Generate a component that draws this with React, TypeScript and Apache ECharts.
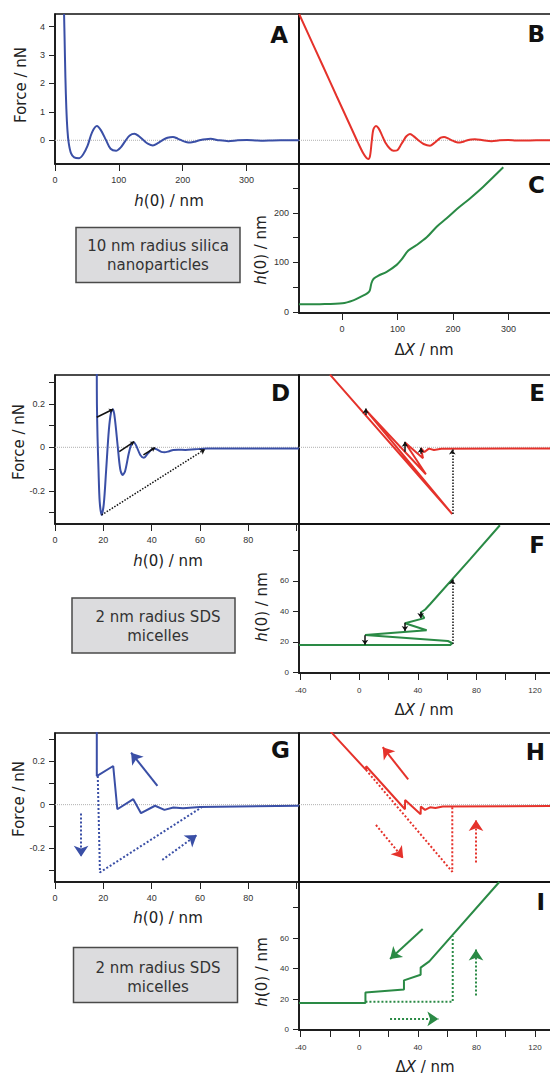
import { useEffect, useRef } from "react";
import * as echarts from "echarts";

// ---------- DATA ----------
// A: silica nanoparticles, Force (nN) vs h(0) (nm)
const silicaForceVsH = [
  [14.2, 4.45], [15.0, 3.6], [16.3, 2.2], [17.8, 1.1], [19.5, 0.35], [21.5, -0.1], [25, -0.45],
  [30, -0.6], [37.8, -0.63], [44, -0.5], [50.9, -0.2], [58, 0.28], [65.6, 0.5], [72, 0.35],
  [79.8, 0.01], [87, -0.3], [95.6, -0.37], [103, -0.25], [110.2, -0.02], [117, 0.17], [124.4, 0.23],
  [131, 0.15], [138.6, 0.0], [146, -0.13], [153.3, -0.18], [161, -0.1], [168, 0.0], [176, 0.09],
  [184.7, 0.12], [192, 0.06], [199, -0.01], [205, -0.06], [212.1, -0.08], [220, -0.04],
  [228, 0.01], [236, 0.04], [243.6, 0.05], [257, 0.0], [271.4, -0.03], [286, 0.0], [300.3, 0.01],
  [314, -0.005], [326.5, -0.015], [340, -0.005], [352.8, 0.0], [382, 0.0],
];
// B: Force (nN) vs ΔX (nm)
const silicaForceVsDX = [
  [-77.3, 4.447], [-33.6, 2.58], [-9.6, 1.55], [14.4, 0.53], [29.4, -0.11], [38, -0.45],
  [44, -0.62], [47.4, -0.66], [50.5, -0.55], [53.5, -0.05], [56.5, 0.38], [61.3, 0.5], [66, 0.42],
  [71.5, 0.2], [78, -0.08], [86.5, -0.3], [93, -0.37], [99.7, -0.35], [105, -0.2], [110.5, -0.02],
  [116, 0.14], [122.5, 0.22], [130, 0.13], [137.5, 0.0], [147, -0.13], [158.6, -0.19], [166, -0.1],
  [172, 0.0], [178, 0.09], [183.8, 0.12], [192, 0.06], [198, 0.0], [205, -0.06], [212.6, -0.08],
  [220, -0.04], [226, 0.0], [233, 0.03], [239.6, 0.04], [254, 0.0], [269.7, -0.03], [284, 0.0],
  [299.7, 0.01], [313, -0.005], [326.7, -0.01], [350, 0.0], [376.6, 0.0],
];
// C: h(0) (nm) vs ΔX (nm)
const silicaHVsDX = [
  [-77.5, 15.5], [-40, 15.8], [0.6, 17.5], [20.4, 23.5], [35.4, 31.5], [46, 38], [50, 43],
  [53, 58], [57, 67], [65, 73], [80.5, 81], [98.5, 95], [107.5, 106], [119.5, 124], [134.5, 135],
  [152.6, 150.6], [170.6, 172], [188.6, 189], [206.6, 207], [230.6, 229], [254.6, 252.6], [290.6, 291.7],
];

// D: SDS micelles, Force vs h(0)
const sdsForceVsH = [
  [17.3, 0.34], [17.35, 0.2], [17.6, 0.05], [18.0, -0.1], [18.5, -0.25], [19.3, -0.311],
  [20.2, -0.26], [21.2, -0.1], [22.3, 0.08], [23.2, 0.16], [24.0, 0.175], [24.8, 0.13],
  [26.0, 0.0], [27.0, -0.1], [28.0, -0.127], [29.0, -0.11], [30.5, -0.03], [31.5, 0.01],
  [32.5, 0.023], [33.5, 0.01], [35.3, -0.035], [36.8, -0.048], [38.3, -0.03], [40, -0.01],
  [41.1, -0.005], [42.5, -0.012], [44, -0.021], [45.3, -0.023], [47, -0.019], [49, -0.012],
  [51, -0.011], [54, -0.012], [58, -0.009], [63, -0.006], [70, -0.005], [101, -0.005],
];
const sdsJumpSegmentsD = [
  [[17.3, 0.138], [24, 0.175]],
  [[26.6, -0.02], [32.8, 0.026]],
  [[36.6, -0.035], [41.4, -0.002]],
];
const sdsPullOffD = [[[19.3, -0.311], [62.1, -0.009]]];

// E: Force vs ΔX (full multivalued curve)
const sdsForceVsDX = [
  [-20, 0.334], [63.5, -0.307], [4.4, 0.172], [45.5, -0.124], [31.2, 0.022], [43.5, -0.05],
  [42.1, -0.004], [44.5, -0.022], [47.5, -0.006], [51, -0.012], [56, -0.007], [131, -0.005],
];
const sdsJumpArrowsE = [
  [[4.4, 0.149], [4.4, 0.178]],
  [[31.2, -0.02], [31.2, 0.025]],
  [[42.1, -0.03], [42.1, -0.002]],
];
const sdsPullOffE = [[[63.5, -0.307], [63.5, -0.01]]];

// F: h(0) vs ΔX (full multivalued curve)
const sdsHVsDX = [
  [-41.2, 17.8], [61.9, 17.8], [63.5, 19.1], [60.5, 20.5], [3.9, 24.4], [46, 27.6],
  [31.2, 32.2], [44.4, 35.5], [41.9, 39.2], [45, 41.2], [48.3, 44.6], [75.6, 74.1], [96, 96.5],
];
const sdsJumpArrowsF = [
  [[3.9, 24.2], [3.9, 18.0]],
  [[31.2, 32.5], [31.2, 27.0]],
  [[41.9, 39.5], [41.9, 35.6]],
];
const sdsPullOffF = [[[63.5, 18.5], [63.5, 61]]];

// G: measured path, Force vs h(0)
const stepForceVsH = [
  [17.3, 0.34], [17.3, 0.131], [24.1, 0.177], [25.8, -0.021], [32.4, 0.025], [35.6, -0.039],
  [41.4, -0.005], [45.3, -0.024], [49, -0.013], [53, -0.016], [60, -0.011], [101, -0.005],
];
const stepRetractForceVsH = [[17.7, 0.131], [18.6, -0.31], [60.7, -0.012]];
const arrowsGSolid = [[[42.4, 0.086], [31.5, 0.238]]];
const arrowsGDotted = [
  [[10.8, -0.04], [10.8, -0.238]],
  [[44.4, -0.253], [58.7, -0.139]],
];

// H: measured path, Force vs ΔX
const stepForceVsDX = [
  [-19.5, 0.334], [4.6, 0.159], [4.7, 0.176], [31.2, -0.021], [31.3, 0.021], [41.9, -0.044],
  [42, -0.009], [44.9, -0.024], [48.3, -0.012], [52, -0.015], [57, -0.008], [131, -0.006],
];
const stepRetractForceVsDX = [[4.6, 0.159], [63.5, -0.307], [63.5, -0.009]];
const arrowsHSolid = [[[33.4, 0.116], [16, 0.263]]];
const arrowsHDotted = [
  [[11.4, -0.093], [30, -0.245]],
  [[79.7, -0.265], [79.7, -0.07]],
];

// I: measured path, h(0) vs ΔX
const stepHVsDX = [
  [-41.2, 17.5], [4.2, 17.5], [4.2, 24.3], [30.5, 26.3], [30.5, 32.3], [41.9, 36], [41.9, 40.7],
  [47.8, 44.8], [95.6, 96.9],
];
const stepRetractHVsDX = [[4.2, 18.3], [63.8, 18.3], [63.8, 61.2]];
const arrowsISolid = [[[43.3, 66], [21, 46.4]]];
const arrowsIDotted = [
  [[79.7, 22.3], [79.7, 52.5]],
  [[21, 7], [54, 7]],
];

// tick values
const ticksA_x = [0, 100, 200, 300];
const ticksA_y = [0, 1, 2, 3, 4];
const ticksC_x = [0, 100, 200, 300];
const ticksC_y = [0, 50, 100, 150, 200, 250];
const labelsC_y = [0, 100, 200];
const ticksH_x = [0, 20, 40, 60, 80, 100];
const labelsH_x = [0, 20, 40, 60, 80];
const ticksF_y = [-0.3, -0.2, -0.1, 0, 0.1, 0.2, 0.3];
const labelsF_y = [-0.2, 0, 0.2];
const ticksDX = [-40, -20, 0, 20, 40, 60, 80, 100, 120];
const labelsDX = [-40, 0, 40, 80, 120];
const ticksHnm = [0, 20, 40, 60, 80];
const labelsHnm = [0, 20, 40, 60];

// ---------- STYLE ----------
const BLUE = "#3a4fa6";
const RED = "#e5322b";
const GREEN = "#2a8a45";
const TICKFONT = "Liberation Sans, Arial, sans-serif";
const FONT = "DejaVu Sans, Verdana, sans-serif";

const gridRects = [
  { left: 55, top: 14, width: 244, height: 150 }, // A
  { left: 299, top: 14, width: 252, height: 150 }, // B
  { left: 299, top: 164, width: 252, height: 149 }, // C
  { left: 55, top: 375, width: 244, height: 149 }, // D
  { left: 299, top: 375, width: 252, height: 149 }, // E
  { left: 299, top: 524, width: 252, height: 149 }, // F
  { left: 55, top: 733, width: 244, height: 149 }, // G
  { left: 299, top: 733, width: 252, height: 149 }, // H
  { left: 299, top: 882, width: 252, height: 148 }, // I
];

function mkAxis(gi: number, min: number, max: number, ticks: number[], labels: number[], isX: boolean, fs = 9) {
  return {
    type: "value",
    gridIndex: gi,
    min,
    max,
    splitLine: { show: false },
    axisLine: { show: true, onZero: false, lineStyle: { color: "#111", width: 1.5 } },
    axisTick: ticks.length
      ? { show: true, inside: false, length: isX ? 7 : 6, customValues: ticks, lineStyle: { color: "#222", width: 1 } }
      : { show: false },
    axisLabel: labels.length
      ? { show: true, customValues: labels, fontSize: fs, color: "#333", fontFamily: TICKFONT, margin: isX ? (fs < 9 ? 13 : 11) : 10 }
      : { show: false },
  };
}

const XR = {
  A: [0, 382], BC: [-77.5, 376.6], DG: [0, 101], EF: [-41.16, 130.9],
};

const xAxes = [
  mkAxis(0, XR.A[0], XR.A[1], ticksA_x, ticksA_x, true),
  mkAxis(1, XR.BC[0], XR.BC[1], [], [], true),
  mkAxis(2, XR.BC[0], XR.BC[1], ticksC_x, ticksC_x, true),
  mkAxis(3, XR.DG[0], XR.DG[1], ticksH_x, labelsH_x, true),
  mkAxis(4, XR.EF[0], XR.EF[1], [], [], true),
  mkAxis(5, XR.EF[0], XR.EF[1], ticksDX, labelsDX, true, 8),
  mkAxis(6, XR.DG[0], XR.DG[1], ticksH_x, labelsH_x, true),
  mkAxis(7, XR.EF[0], XR.EF[1], [], [], true),
  mkAxis(8, XR.EF[0], XR.EF[1], ticksDX, labelsDX, true, 8),
];
const yAxes = [
  mkAxis(0, -0.835, 4.447, ticksA_y, ticksA_y, false),
  mkAxis(1, -0.835, 4.447, [], [], false),
  mkAxis(2, -2, 298.4, ticksC_y, labelsC_y, false),
  mkAxis(3, -0.3526, 0.3324, ticksF_y, labelsF_y, false),
  mkAxis(4, -0.3526, 0.3324, [], [], false),
  mkAxis(5, -0.5, 97.3, ticksHnm, labelsHnm, false, 8),
  mkAxis(6, -0.354, 0.328, ticksF_y, labelsF_y, false),
  mkAxis(7, -0.354, 0.328, [], [], false),
  mkAxis(8, -0.3, 96.9, ticksHnm, labelsHnm, false, 8),
];

function curve(gi: number, data: number[][], color: string, smooth: number | boolean = false, type = "solid", width = 2) {
  return {
    type: "line", xAxisIndex: gi, yAxisIndex: gi, data, symbol: "none", silent: true,
    smooth,
    lineStyle: { color, width, type }, z: 3,
  };
}
function zero(gi: number, r: number[]) {
  return {
    type: "line", xAxisIndex: gi, yAxisIndex: gi, data: [[r[0], 0], [r[1], 0]], symbol: "none", silent: true,
    lineStyle: { color: "#b0b0b0", width: 1, type: "dotted" }, z: 1,
  };
}
function arrows(gi: number, list: number[][][], color: string, type: string, width: number, size: number, head = true) {
  return {
    type: "lines", coordinateSystem: "cartesian2d", xAxisIndex: gi, yAxisIndex: gi, silent: true,
    symbol: head ? ["none", "arrow"] : ["none", "none"], symbolSize: size,
    lineStyle: { color, width, type, opacity: 1, curveness: 0 },
    data: list.map((c) => ({ coords: c })), z: 4,
  };
}

const series = [
  zero(0, XR.A), zero(1, XR.BC), zero(3, XR.DG), zero(4, XR.EF), zero(6, XR.DG), zero(7, XR.EF),
  curve(0, silicaForceVsH, BLUE, 0.3),
  curve(1, silicaForceVsDX, RED, 0.3),
  curve(2, silicaHVsDX, GREEN, 0.3),
  curve(3, sdsForceVsH, BLUE, 0.3),
  arrows(3, sdsJumpSegmentsD, "#111", "solid", 1.5, 4),
  arrows(3, sdsPullOffD, "#111", "dotted", 1.5, 5),
  curve(4, sdsForceVsDX, RED, false),
  arrows(4, sdsJumpArrowsE, "#111", "solid", 1.5, 5),
  arrows(4, sdsPullOffE, "#111", "dotted", 1.5, 5),
  curve(5, sdsHVsDX, GREEN, false),
  arrows(5, sdsJumpArrowsF, "#111", "solid", 1.5, 5),
  arrows(5, sdsPullOffF, "#111", "dotted", 1.5, 5),
  curve(6, stepForceVsH, BLUE, false),
  curve(6, stepRetractForceVsH, BLUE, false, "dotted"),
  arrows(6, arrowsGSolid, BLUE, "solid", 2, 11),
  arrows(6, arrowsGDotted, BLUE, "dotted", 2, 11),
  curve(7, stepForceVsDX, RED, false),
  curve(7, stepRetractForceVsDX, RED, false, "dotted"),
  arrows(7, arrowsHSolid, RED, "solid", 2, 11),
  arrows(7, arrowsHDotted, RED, "dotted", 2, 11),
  curve(8, stepHVsDX, GREEN, false),
  curve(8, stepRetractHVsDX, GREEN, false, "dotted"),
  arrows(8, arrowsISolid, GREEN, "solid", 2, 11),
  arrows(8, arrowsIDotted, GREEN, "dotted", 2, 11),
];

const titleStyle = { fontSize: 15, fontFamily: FONT, fill: "#222", align: "center", verticalAlign: "middle" };
const richT = {
  i: { fontStyle: "italic", fontSize: 15, fontFamily: FONT, fill: "#222" },
  n: { fontSize: 15, fontFamily: FONT, fill: "#222" },
};
const hTitle = "{i|h}{n|(0) / nm}";
const dxTitle = "{n|Δ}{i|X}{n| / nm}";

function vText(x: number, y: number, text: string, rich = false) {
  return { type: "text", x, y, rotation: Math.PI / 2, silent: true, style: { ...titleStyle, text, ...(rich ? { rich: richT } : {}) } };
}
function hText(x: number, y: number, text: string) {
  return { type: "text", x, y, silent: true, style: { ...titleStyle, text, rich: richT } };
}
function letter(x: number, y: number, text: string) {
  return {
    type: "text", x, y, silent: true,
    style: { text, fontSize: 23, fontWeight: "bold", fontFamily: FONT, fill: "#111", align: "right", verticalAlign: "middle" },
  };
}
function box(x: number, y: number, w: number, h: number, tx: number, ty: number, text: string) {
  return [
    { type: "rect", silent: true, shape: { x, y, width: w, height: h }, style: { fill: "#dcdcde", stroke: "#4a4a4a", lineWidth: 1.5 } },
    {
      type: "text", x: tx, y: ty, silent: true,
      style: { text, fontSize: 15, fontFamily: FONT, fill: "#333", align: "center", verticalAlign: "middle", lineHeight: 19 },
    },
  ];
}

const graphics = [
  vText(21, 85, "Force / nN"),
  vText(19, 442, "Force / nN"),
  vText(18.5, 799, "Force / nN"),
  hText(169, 201, hTitle),
  hText(168, 561, hTitle),
  hText(168, 918, hTitle),
  vText(261, 250, hTitle, true),
  vText(261.5, 607, hTitle, true),
  vText(261.5, 972, hTitle, true),
  hText(424, 350, dxTitle),
  hText(424, 710, dxTitle),
  hText(425, 1067, dxTitle),
  letter(288, 35, "A"),
  letter(545, 34, "B"),
  letter(545, 185, "C"),
  letter(290, 393, "D"),
  letter(545, 393, "E"),
  letter(545, 545, "F"),
  letter(290, 750, "G"),
  letter(545, 752, "H"),
  letter(545, 902, "I"),
  ...box(76, 227.5, 164, 55, 158, 255.5, "10 nm radius silica\nnanoparticles"),
  ...box(72, 598, 163, 55, 158, 626, "2 nm radius SDS\nmicelles"),
  ...box(73.5, 947.5, 164, 55, 158, 977, "2 nm radius SDS\nmicelles"),
];

const option = {
  animation: false,
  backgroundColor: "#ffffff",
  grid: gridRects.map((g) => ({
    ...g, show: true, borderColor: "#111", borderWidth: 1.5, backgroundColor: "transparent",
    containLabel: false, outerBoundsMode: "none",
  })),
  xAxis: xAxes,
  yAxis: yAxes,
  series,
  graphic: { elements: graphics },
};

export default function App() {
  const ref = useRef<HTMLDivElement>(null);
  useEffect(() => {
    if (!ref.current) return;
    const chart = echarts.init(ref.current, null, { renderer: "svg", width: 550, height: 1076 });
    chart.setOption(option as any);
    return () => chart.dispose();
  }, []);
  return (
    <div
      ref={ref}
      style={{ position: "absolute", left: 0, top: 0, width: 550, height: 1076, background: "#fff" }}
    />
  );
}
